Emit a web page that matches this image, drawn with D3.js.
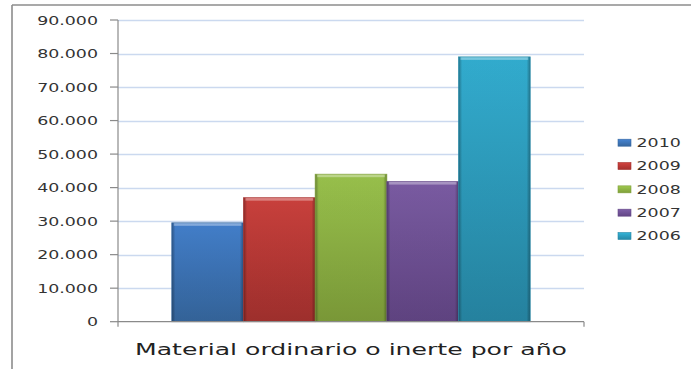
<!DOCTYPE html>
<html><head><meta charset="utf-8">
<script src="https://cdn.jsdelivr.net/npm/d3@7"></script>
<style>html,body{margin:0;padding:0;background:#fff;overflow:hidden}</style>
</head><body>
<svg id="c" width="691" height="369"></svg>
<script>
const series = ["2010","2009","2008","2007","2006"];
const values = [29500, 37000, 44000, 41800, 79000];
const yTicks = [0,10000,20000,30000,40000,50000,60000,70000,80000,90000];
const title = "Material ordinario o inerte por año";
const colors = ["#4584d3","#d2433f","#9fc94f","#7f5fa9","#34b4d8"];
const darks  = ["#36679f","#a5312e","#7f9f3a","#634686","#2788a6"];

(function(){
const svg = d3.select("#c");
const W = 691, H = 369;
const pL = 118, pR = 584, pT = 20, pB = 321.7;
const FONT = "DejaVu Sans, Verdana, sans-serif";
const SX = 1.45;

// frame
svg.append("line").attr("x1",12).attr("x2",12).attr("y1",5).attr("y2",H).attr("stroke","#8c8c8c").attr("stroke-width",1.6);
svg.append("line").attr("x1",12).attr("x2",W).attr("y1",5).attr("y2",5).attr("stroke","#8c8c8c").attr("stroke-width",1.6);

const y = d3.scaleLinear().domain([0,90000]).range([pB, pT]);
const x = d3.scaleBand().domain(series).range([pL, pR]).paddingInner(0).paddingOuter(0.75);

const fmt = v => d3.format(",")(v).replace(/,/g, ".");

// gridlines
svg.append("g").selectAll("line").data(yTicks.filter(d=>d>0)).join("line")
  .attr("x1", pL).attr("x2", pR)
  .attr("y1", d=>Math.round(y(d))+0.5).attr("y2", d=>Math.round(y(d))+0.5)
  .attr("stroke","#cbd9ef").attr("stroke-width",1.6);

// defs gradients
const defs = svg.append("defs");
series.forEach((s,i)=>{
  const g = defs.append("linearGradient").attr("id","v"+i).attr("x1",0).attr("x2",0).attr("y1",0).attr("y2",1);
  g.append("stop").attr("offset","0%").attr("stop-color",colors[i]);
  g.append("stop").attr("offset","100%").attr("stop-color",darks[i]);
});
const hg = defs.append("linearGradient").attr("id","edge").attr("x1",0).attr("x2",1).attr("y1",0).attr("y2",0);
hg.append("stop").attr("offset","0%").attr("stop-color","#000").attr("stop-opacity",0.35);
hg.append("stop").attr("offset","5%").attr("stop-color","#000").attr("stop-opacity",0.05);
hg.append("stop").attr("offset","95%").attr("stop-color","#000").attr("stop-opacity",0.05);
hg.append("stop").attr("offset","100%").attr("stop-color","#000").attr("stop-opacity",0.35);

// bars
const bars = svg.append("g").selectAll("g").data(series).join("g");
bars.append("rect")
  .attr("x", d=>x(d)).attr("width", x.bandwidth())
  .attr("y", (d,i)=>y(values[i])).attr("height", (d,i)=>pB - y(values[i]))
  .attr("fill", (d,i)=>`url(#v${i})`);
bars.append("rect")
  .attr("x", d=>x(d)).attr("width", x.bandwidth())
  .attr("y", (d,i)=>y(values[i])).attr("height", (d,i)=>pB - y(values[i]))
  .attr("fill", "url(#edge)");
bars.append("rect")
  .attr("x", d=>x(d)+2).attr("width", x.bandwidth()-4)
  .attr("y", (d,i)=>y(values[i])).attr("height", 3)
  .attr("fill", "#fff").attr("opacity",0.35);
bars.append("rect")
  .attr("x", d=>x(d)).attr("width", x.bandwidth())
  .attr("y", (d,i)=>y(values[i])).attr("height", (d,i)=>pB - y(values[i]))
  .attr("fill", "none").attr("stroke",(d,i)=>darks[i]).attr("stroke-width",0.8).attr("stroke-opacity",0.8);

// axes lines
svg.append("line").attr("x1",pL).attr("x2",pL).attr("y1",pT).attr("y2",pB+5).attr("stroke","#8a8a8a").attr("stroke-width",1.2);
svg.append("line").attr("x1",pL).attr("x2",pR).attr("y1",pB).attr("y2",pB).attr("stroke","#8a8a8a").attr("stroke-width",1.2);
svg.append("line").attr("x1",pR).attr("x2",pR).attr("y1",pB).attr("y2",pB+5).attr("stroke","#8a8a8a").attr("stroke-width",1.2);

// y ticks
const yt = svg.append("g");
yt.selectAll("line").data(yTicks).join("line")
  .attr("x1", pL-8).attr("x2", pL)
  .attr("y1", d=>y(d)).attr("y2", d=>y(d))
  .attr("stroke","#8a8a8a").attr("stroke-width",1.2);
yt.selectAll("text").data(yTicks).join("text")
  .attr("transform", d=>`translate(98,${y(d)+4.5}) scale(${SX},1)`)
  .attr("text-anchor","end")
  .attr("font-family",FONT).attr("font-size",12).attr("fill","#333")
  .text(d=>fmt(d));

// legend
const lg = svg.append("g");
const ly = d3.scalePoint().domain(series).range([142.7, 236]);
lg.selectAll("rect").data(series).join("rect")
  .attr("x",618).attr("width",13).attr("y",d=>ly(d)-3.5).attr("height",7)
  .attr("fill",(d,i)=>`url(#v${i})`).attr("stroke",(d,i)=>darks[i]).attr("stroke-width",0.6);
lg.selectAll("text").data(series).join("text")
  .attr("transform", d=>`translate(636.5,${ly(d)+4.3}) scale(${SX},1)`)
  .attr("font-family",FONT).attr("font-size",12).attr("fill","#333")
  .text(d=>d);

// title
svg.append("text")
  .attr("x", 135).attr("y", 355)
  .attr("textLength", 432).attr("lengthAdjust","spacingAndGlyphs")
  .attr("font-family",FONT).attr("font-size",16.5).attr("fill","#222")
  .text(title);
})();
</script>
</body></html>
